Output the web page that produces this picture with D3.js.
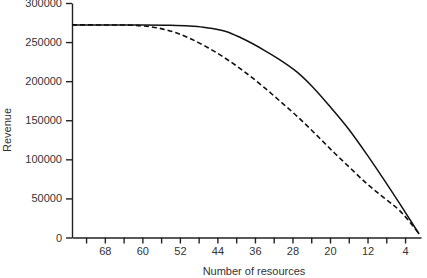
<!DOCTYPE html>
<html>
<head>
<meta charset="utf-8">
<script src="https://cdn.jsdelivr.net/npm/d3@7"></script>
<style>
	body { margin: 0; background: #fff; }
	text { font-family: "Liberation Sans", Arial, sans-serif; fill: #333; }
</style>
</head>
<body>
<svg id="chart" width="427" height="278"></svg>
<script>
// solid line
const resourcesSolid = [75, 60, 54, 50, 47, 45, 42, 39, 34, 31, 27, 24, 20, 16, 12, 9, 5, 1];
const revenueSolid = [272000, 271800, 271400, 270500, 269000, 267300, 263300, 255500, 239500, 228500, 211500, 194500, 167500, 138500, 105000, 78500, 42000, 4500];

// dashed line
const resourcesDashed = [75, 64, 60, 56, 53, 50, 46, 43, 39, 34, 31, 27, 23, 19, 16, 12, 9, 5, 1];
const revenueDashed = [272000, 271800, 270800, 267200, 262300, 255000, 242800, 232000, 215500, 191800, 176200, 155000, 131800, 107800, 90700, 68100, 53200, 33500, 4500];

const yTicks = [0, 50000, 100000, 150000, 200000, 250000, 300000];
const xTicks = d3.range(72, 0, -4);
const xLabels = [68, 60, 52, 44, 36, 28, 20, 12, 4];

const svg = d3.select('#chart');

const x = d3.scaleLinear().domain([75, 0.6]).range([72, 421]);
const y = d3.scaleLinear().domain([0, 300000]).range([237.5, 3]);

// axes
const yAxis = svg.append('g')
	.attr('transform', 'translate(72,0)')
	.call(d3.axisLeft(y).tickValues(yTicks).tickFormat(d3.format('d')).tickSizeOuter(0).tickPadding(4));

const xAxis = svg.append('g')
	.attr('transform', 'translate(0,237.5)')
	.call(d3.axisBottom(x).tickValues(xTicks)
		.tickFormat(d => xLabels.includes(d) ? d : '')
		.tickSizeOuter(0).tickPadding(4));

[yAxis, xAxis].forEach(g => {
	g.selectAll('path, line').attr('stroke', '#222').attr('stroke-width', 1.4);
	g.selectAll('text').attr('font-size', 11).attr('fill', '#333')
		.style('font-family', '"Liberation Sans", Arial, sans-serif');
});

// axis titles
svg.append('text')
	.attr('x', 254)
	.attr('y', 275)
	.attr('text-anchor', 'middle')
	.attr('font-size', 11)
	.text('Number of resources');

svg.append('text')
	.attr('transform', 'translate(11,130) rotate(-90)')
	.attr('text-anchor', 'middle')
	.attr('font-size', 11)
	.text('Revenue');

// lines
const line = d3.line()
	.x(d => x(d[0]))
	.y(d => y(d[1]))
	.curve(d3.curveMonotoneX);

svg.append('path')
	.datum(resourcesDashed.map((r, i) => [r, revenueDashed[i]]))
	.attr('fill', 'none')
	.attr('stroke', '#111')
	.attr('stroke-width', 1.6)
	.attr('stroke-dasharray', '5,3')
	.attr('d', line);

svg.append('path')
	.datum(resourcesSolid.map((r, i) => [r, revenueSolid[i]]))
	.attr('fill', 'none')
	.attr('stroke', '#111')
	.attr('stroke-width', 1.5)
	.attr('d', line);
</script>
</body>
</html>
